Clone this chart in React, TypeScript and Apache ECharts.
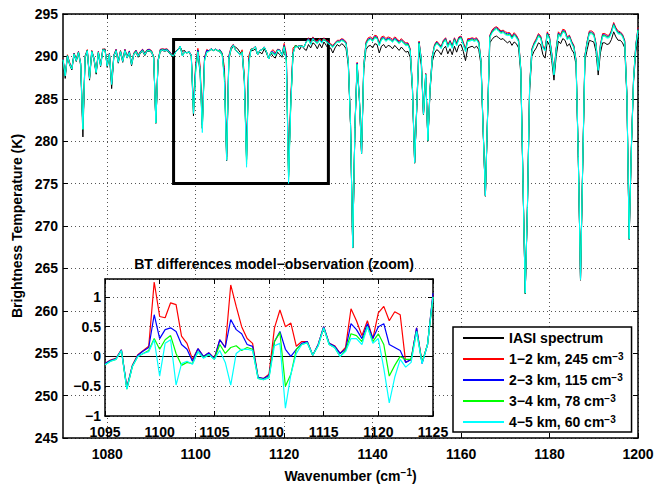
import React, { useEffect, useRef } from 'react';
import * as echarts from 'echarts';

const FONT = '"Liberation Sans", Arial, Helvetica, sans-serif';

// Spectral grid: IASI sampling used here, 0.5 cm-1 from 1070 cm-1
const wnStart = 1070;
const wnStep = 0.5;

// IASI observed brightness temperature (K), 1070.0 ... 1200.0 cm-1
const btIasi = [
  289.5, 287.4, 290.0, 289.0, 288.4, 290.2, 289.4, 290.4, 288.9, 280.5,
  289.8, 290.6, 287.2, 290.5, 289.6, 287.9, 290.4, 288.8, 290.7, 290.9,
  288.7, 290.2, 286.2, 290.0, 290.6, 289.2, 290.5, 289.3, 290.6, 289.8,
  290.4, 288.9, 290.2, 290.5, 289.9, 290.4, 290.6, 290.1, 290.6, 290.6,
  290.5, 289.8, 282.1, 289.4, 290.6, 290.7, 290.6, 290.7, 290.4, 290.1,
  290.2, 290.6, 290.8, 291.1, 290.6, 290.7, 290.4, 290.5, 290.0, 283.0,
  288.5, 290.3, 288.0, 281.5, 289.6, 290.6, 290.7, 290.8, 290.7, 290.8,
  290.7, 290.5, 290.2, 287.5, 277.7, 289.6, 290.8, 291.2, 291.1, 290.9,
  290.5, 290.3, 287.0, 277.8, 289.5, 290.7, 290.7, 290.9, 290.2, 290.5,
  290.3, 290.9, 290.4, 289.7, 290.4, 290.0, 289.8, 290.5, 290.2, 289.9,
  290.8, 289.5, 275.8, 284.5, 290.3, 291.3, 291.2, 290.8, 291.3, 290.9,
  290.7, 291.4, 291.0, 291.6, 291.4, 290.9, 291.5, 291.0, 291.7, 291.3,
  290.9, 291.0, 290.4, 291.0, 291.4, 291.2, 291.5, 291.3, 290.9, 289.0,
  282.0, 267.4, 281.5, 288.7, 285.0, 278.5, 288.5, 290.8, 291.2, 291.3,
  291.0, 291.5, 291.4, 290.4, 291.2, 291.4, 291.0, 291.3, 291.2, 290.9,
  291.3, 291.0, 290.7, 291.1, 290.8, 290.5, 290.6, 289.9, 286.0, 277.4,
  284.0, 290.8, 289.0, 283.1, 287.5, 280.0, 286.0, 289.4, 290.4, 290.8,
  290.6, 290.2, 290.9, 291.2, 290.3, 290.9, 290.2, 291.2, 290.5, 291.3,
  291.4, 290.6, 289.5, 291.0, 291.1, 291.2, 291.0, 291.2, 290.8, 289.0,
  281.0, 273.5, 283.0, 291.6, 292.0, 292.3, 292.4, 292.2, 292.0, 292.1,
  291.8, 291.6, 291.8, 291.3, 291.7, 291.5, 291.0, 288.0, 275.0, 262.0,
  272.0, 286.0, 290.0, 290.6, 291.0, 291.6, 291.4, 290.2, 289.8, 291.8,
  291.3, 289.5, 287.2, 290.0, 291.8, 291.5, 292.1, 291.9, 291.2, 291.5,
  290.8, 290.4, 289.0, 278.0, 263.6, 277.0, 289.5, 290.8, 291.9, 291.8,
  291.7, 290.6, 287.8, 290.4, 291.6, 291.6, 291.4, 291.5, 292.0, 292.9,
  292.3, 291.9, 291.9, 291.6, 291.0, 285.0, 268.4, 279.0, 287.0, 290.5,
  292.3,
];

// Model minus observation (K), same grid
const diff12 = [
  0.25, 0.4, 0.2, 0.3, 0.25, 0.2, 0.3, 0.2, 0.3, 1.0,
  0.3, 0.2, 0.3, 0.2, 0.25, 0.3, 0.2, 0.3, 0.2, -0.1,
  0.3, 0.2, 0.6, 0.2, 0.25, 0.3, 0.2, 0.3, 0.25, 0.2,
  0.25, 0.3, 0.2, 0.25, 0.3, 0.2, 0.25, 0.3, 0.2, 0.25,
  0.2, 0.2, 0.1, 0.2, 0.25, 0.2, 0.25, 0.2, 0.25, 0.2,
  -0.12, -0.06, -0.03, 0.11, -0.52, -0.15, 0.03, 0.1, 0.17, 1.25,
  0.67, 0.65, 0.9, 0.87, 0.34, 0.22, -0.05, 0.13, 0.0, 0.06,
  -0.03, 0.28, 0.15, 1.2, 0.84, 0.5, 0.3, 0.22, -0.35, -0.37,
  -0.3, 0.48, 0.78, 0.5, 0.56, 0.17, 0.25, 0.25, 0.02, 0.2,
  0.5, 0.22, 0.18, 0.05, 0.15, 0.8, 0.6, 0.35, 0.6, 0.3,
  0.73, 0.84, 0.6, 0.75, 0.7, -0.1, -0.05, 0.48, -0.1, 0.2,
  1.04,
  0.8, 0.6, 0.7, 0.5, 0.9, 0.6, 0.8, 0.5, 0.6, 0.9,
  0.5, 0.9, 0.6, 0.5, 0.7, 0.6, 0.7, 0.8, 0.5, 0.2,
  0.05, 0.2, 0.6, 0.2, 0.1,
  0.5, 0.9, 1.0, 1.0, 1.1, 1.0, 1.0, 1.2, 1.1, 1.0,
  1.1, 1.0, 1.0, 1.1, 1.0, 1.1, 1.1, 1.0, 1.0, 1.1,
  1.0, 1.0, 0.5, 0.1, 0.4, 1.0, 0.8, 0.1, 0.5, 0.1,
  0.4, 0.7, 1.0, 1.0, 0.9, 1.0, 1.0, 1.0, 1.1, 1.0,
  1.1, 1.0, 1.1, 1.0, 1.0, 1.1, 1.4, 1.1, 1.0, 1.0,
  1.1, 1.0, 1.0, 0.6, 0.3, 0.1, 0.3, 0.9, 1.1, 1.1,
  1.1, 1.1, 1.0, 1.0, 1.1, 1.2, 1.0, 1.1, 1.1, 1.0,
  1.0, 0.6, 0.3, 0.1, 0.3, 0.6, 0.9, 1.0, 1.1, 1.1,
  1.0, 1.1, 1.2, 1.1, 1.0, 0.9, 0.9, 1.0, 1.1, 1.1,
  1.1, 1.2, 1.1, 1.0, 1.0, 0.9, 0.6, 0.3, 0.1, 0.3,
  0.7, 1.0, 1.1, 1.2, 1.1, 1.0, 0.8, 1.0, 1.1, 1.1,
  1.1, 1.0, 1.1, 1.1, 1.1, 1.1, 1.0, 1.0, 0.9, 0.5,
  0.1, 0.3, 0.5, 0.9, 1.1,
];

const diff23 = [
  0.2, 0.35, 0.15, 0.2, 0.2, 0.15, 0.2, 0.15, 0.25, 0.95,
  0.2, 0.15, 0.25, 0.15, 0.2, 0.25, 0.15, 0.2, 0.15, -0.15,
  0.25, 0.15, 0.55, 0.15, 0.2, 0.2, 0.15, 0.2, 0.2, 0.15,
  0.2, 0.25, 0.15, 0.2, 0.2, 0.15, 0.2, 0.2, 0.15, 0.2,
  0.15, 0.15, 0.08, 0.15, 0.2, 0.15, 0.2, 0.15, 0.2, 0.15,
  -0.12, -0.07, -0.04, 0.11, -0.53, -0.16, 0.02, 0.09, 0.15, 0.7,
  0.3, 0.45, 0.48, 0.42, 0.2, 0.12, -0.08, 0.13, 0.0, 0.06,
  -0.04, 0.28, 0.15, 0.62, 0.45, 0.38, 0.2, 0.17, -0.35, -0.37,
  -0.32, 0.25, 0.42, 0.12, 0.0, 0.12, 0.22, 0.25, 0.02, 0.2,
  0.5, 0.22, 0.17, 0.05, 0.12, 0.55, 0.45, 0.3, 0.55, 0.3,
  0.5, 0.55, 0.2, 0.15, 0.1, -0.1, -0.05, 0.48, -0.12, 0.2,
  1.06,
  0.7, 0.5, 0.6, 0.4, 0.75, 0.5, 0.7, 0.4, 0.5, 0.75,
  0.4, 0.8, 0.5, 0.4, 0.6, 0.5, 0.6, 0.7, 0.4, 0.15,
  0.05, 0.15, 0.5, 0.15, 0.08,
  0.4, 0.75, 0.85, 0.85, 0.95, 0.85, 0.85, 1.05, 0.95, 0.85,
  0.95, 0.85, 0.85, 0.95, 0.85, 0.95, 0.95, 0.85, 0.9, 0.95,
  0.9, 0.9, 0.45, 0.1, 0.35, 0.9, 0.7, 0.1, 0.45, 0.1,
  0.35, 0.6, 0.9, 0.9, 0.8, 0.9, 0.9, 0.9, 0.95, 0.9,
  0.95, 0.9, 0.95, 0.9, 0.9, 0.95, 1.25, 0.95, 0.9, 0.9,
  0.95, 0.9, 0.9, 0.5, 0.25, 0.1, 0.25, 0.8, 0.95, 0.95,
  1.0, 0.95, 0.9, 0.9, 0.95, 1.05, 0.9, 0.95, 0.95, 0.9,
  0.9, 0.5, 0.25, 0.1, 0.25, 0.5, 0.8, 0.9, 0.95, 0.95,
  0.9, 0.95, 1.05, 0.95, 0.9, 0.8, 0.8, 0.9, 0.95, 0.95,
  0.95, 1.05, 0.95, 0.9, 0.9, 0.8, 0.5, 0.25, 0.1, 0.25,
  0.6, 0.9, 0.95, 1.05, 0.95, 0.9, 0.7, 0.9, 0.95, 0.95,
  0.95, 0.9, 0.95, 0.95, 0.95, 0.95, 0.9, 0.9, 0.8, 0.4,
  0.1, 0.25, 0.4, 0.8, 0.95,
];

const diff34 = [
  0.12, 0.3, 0.1, 0.15, 0.15, 0.1, 0.15, 0.1, 0.2, 0.9,
  0.15, 0.1, 0.2, 0.1, 0.15, 0.2, 0.1, 0.15, 0.1, -0.2,
  0.2, 0.1, 0.5, 0.1, 0.1, 0.15, 0.1, 0.15, 0.1, 0.1,
  0.1, 0.2, 0.1, 0.1, 0.15, 0.1, 0.1, 0.15, 0.1, 0.1,
  0.1, 0.1, 0.05, 0.1, 0.1, 0.1, 0.1, 0.1, 0.1, 0.1,
  -0.14, -0.08, -0.05, 0.1, -0.55, -0.17, 0.0, 0.05, 0.1, 0.3,
  0.12, 0.28, 0.35, 0.05, -0.15, -0.1, -0.12, 0.08, -0.02, 0.03,
  -0.05, 0.2, 0.05, 0.15, 0.18, 0.1, 0.15, 0.12, -0.37, -0.39,
  -0.35, 0.25, 0.4, -0.5, -0.3, 0.12, 0.2, 0.23, 0.02, 0.18,
  0.48, 0.2, 0.15, 0.0, 0.1, 0.38, 0.35, 0.25, 0.5, 0.25,
  0.38, 0.2, -0.33, -0.15, 0.0, -0.05, -0.05, 0.42, -0.1, 0.2,
  1.0,
  0.6, 0.45, 0.5, 0.35, 0.65, 0.45, 0.6, 0.35, 0.45, 0.65,
  0.35, 0.7, 0.45, 0.35, 0.5, 0.4, 0.5, 0.6, 0.35, 0.1,
  0.05, 0.1, 0.4, 0.1, 0.05,
  0.35, 0.65, 0.75, 0.75, 0.85, 0.75, 0.75, 0.95, 0.85, 0.75,
  0.85, 0.75, 0.75, 0.85, 0.75, 0.85, 0.85, 0.75, 0.8, 0.85,
  0.8, 0.8, 0.4, 0.08, 0.3, 0.8, 0.6, 0.08, 0.4, 0.08,
  0.3, 0.55, 0.8, 0.8, 0.7, 0.8, 0.8, 0.8, 0.85, 0.8,
  0.85, 0.8, 0.85, 0.8, 0.8, 0.85, 1.15, 0.85, 0.8, 0.8,
  0.85, 0.8, 0.8, 0.45, 0.2, 0.08, 0.2, 0.7, 0.85, 0.85,
  0.9, 0.85, 0.8, 0.8, 0.85, 0.95, 0.8, 0.85, 0.85, 0.8,
  0.8, 0.45, 0.2, 0.08, 0.2, 0.45, 0.7, 0.8, 0.85, 0.85,
  0.8, 0.85, 0.95, 0.85, 0.8, 0.7, 0.7, 0.8, 0.85, 0.85,
  0.85, 0.95, 0.85, 0.8, 0.8, 0.7, 0.45, 0.2, 0.08, 0.2,
  0.5, 0.8, 0.85, 0.95, 0.85, 0.8, 0.6, 0.8, 0.85, 0.85,
  0.85, 0.8, 0.85, 0.85, 0.85, 0.85, 0.8, 0.8, 0.7, 0.35,
  0.08, 0.2, 0.35, 0.7, 0.85,
];

const diff45 = [
  0.1, 0.3, 0.05, 0.1, 0.1, 0.05, 0.1, 0.05, 0.2, 0.9,
  0.1, 0.05, 0.2, 0.05, 0.1, 0.2, 0.05, 0.1, 0.05, -0.2,
  0.15, 0.05, 0.5, 0.05, 0.05, 0.1, 0.05, 0.1, 0.05, 0.05,
  0.05, 0.15, 0.05, 0.05, 0.1, 0.05, 0.05, 0.1, 0.05, 0.05,
  0.05, 0.05, 0.05, 0.05, 0.05, 0.05, 0.05, 0.05, 0.05, 0.05,
  -0.14, -0.08, -0.05, 0.1, -0.55, -0.17, 0.0, 0.05, 0.08, 0.28,
  -0.33, 0.22, 0.28, -0.48, -0.12, -0.08, -0.13, 0.08, -0.03, 0.03,
  -0.05, 0.1, -0.1, -0.48, 0.05, 0.12, 0.12, 0.1, -0.37, -0.39,
  -0.36, 0.18, 0.22, -0.87, -0.3, 0.05, 0.2, 0.23, 0.02, 0.18,
  0.48, 0.2, 0.15, 0.0, 0.08, 0.3, 0.3, 0.2, 0.5, 0.22,
  0.3, -0.2, -0.78, -0.35, -0.05, -0.18, -0.1, 0.42, -0.12, 0.2,
  1.0,
  0.55, 0.4, 0.45, 0.3, 0.6, 0.4, 0.55, 0.3, 0.4, 0.6,
  0.3, 0.65, 0.4, 0.3, 0.45, 0.35, 0.45, 0.55, 0.3, 0.1,
  0.05, 0.1, 0.35, 0.1, 0.05,
  0.3, 0.55, 0.65, 0.7, 0.75, 0.65, 0.7, 0.85, 0.75, 0.7,
  0.75, 0.7, 0.7, 0.75, 0.7, 0.75, 0.8, 0.7, 0.7, 0.75,
  0.7, 0.75, 0.35, 0.08, 0.3, 0.7, 0.55, 0.08, 0.35, 0.08,
  0.25, 0.5, 0.7, 0.7, 0.65, 0.7, 0.7, 0.7, 0.75, 0.7,
  0.75, 0.7, 0.75, 0.7, 0.7, 0.75, 1.05, 0.75, 0.7, 0.7,
  0.75, 0.7, 0.7, 0.4, 0.2, 0.08, 0.2, 0.6, 0.75, 0.75,
  0.8, 0.75, 0.7, 0.7, 0.75, 0.85, 0.7, 0.75, 0.75, 0.7,
  0.7, 0.4, 0.2, 0.08, 0.2, 0.4, 0.6, 0.7, 0.75, 0.75,
  0.7, 0.75, 0.85, 0.75, 0.7, 0.6, 0.6, 0.7, 0.75, 0.75,
  0.75, 0.85, 0.75, 0.7, 0.7, 0.6, 0.4, 0.2, 0.08, 0.2,
  0.45, 0.7, 0.75, 0.85, 0.75, 0.7, 0.55, 0.7, 0.75, 0.75,
  0.75, 0.7, 0.75, 0.75, 0.75, 0.75, 0.7, 0.7, 0.6, 0.3,
  0.08, 0.2, 0.3, 0.6, 0.75,
];

const mainXTicks = [1080, 1100, 1120, 1140, 1160, 1180, 1200];
const insetRange = [1095, 1125];
const zoomBoxX = [1095, 1130];
const zoomBoxY = [275, 292];

const seriesNames = ['IASI spectrum', '1−2 km, 245 cm−3', '2−3 km, 115 cm−3', '3−4 km, 78 cm−3', '4−5 km, 60 cm−3'];
const legendMain = ['IASI spectrum', '1−2 km, 245 cm', '2−3 km, 115 cm', '3−4 km, 78 cm', '4−5 km, 60 cm'];
const legendSup = ['', '−3', '−3', '−3', '−3'];
const colors = ['#000000', '#ff0000', '#0000ff', '#00ff00', '#00ffff'];

const lbl = { color: '#000', fontWeight: 'bold' as const, fontSize: 14, fontFamily: FONT };
const gridDots = { show: true, lineStyle: { color: '#555', width: 1, type: [1, 3] as number[] } };
const axLine = { show: true, onZero: false, lineStyle: { color: '#000', width: 1.5 } };
const tickIn = { show: true, inside: true, length: 5, lineStyle: { color: '#000', width: 1 } };
const plain = (v: number) => String(v).replace('-', '−');

export default function App() {
  const ref = useRef<HTMLDivElement>(null);
  useEffect(() => {
    if (!ref.current) return;
    const chart = echarts.init(ref.current, null, { renderer: 'svg' });
    const wn = btIasi.map((_, i) => +(wnStart + wnStep * i).toFixed(2));
    const diffs = [diff12, diff23, diff34, diff45];
    const mainData = [
      wn.map((w, i) => [w, btIasi[i]]),
      ...diffs.map((d) => wn.map((w, i) => [w, +(btIasi[i] + d[i]).toFixed(2)])),
    ];
    const insetIdx = wn.map((_, i) => i).filter((i) => wn[i] >= insetRange[0] && wn[i] <= insetRange[1]);
    const insetData = diffs.map((d) => insetIdx.map((i) => [wn[i], d[i]]));

    const series: any[] = [];
    mainData.forEach((data, k) => {
      series.push({
        type: 'line', name: seriesNames[k], data, xAxisIndex: 0, yAxisIndex: 0,
        symbol: 'none', z: 2, lineStyle: { color: colors[k], width: 1 }, itemStyle: { color: colors[k] },
        ...(k === 0 ? {
          markArea: {
            silent: true,
            itemStyle: { color: 'rgba(0,0,0,0)', borderColor: '#000', borderWidth: 3 },
            data: [[{ coord: [zoomBoxX[0], zoomBoxY[1]] }, { coord: [zoomBoxX[1], zoomBoxY[0]] }]],
          },
        } : {}),
      });
    });
    series.push({
      type: 'line', name: seriesNames[0], data: [], xAxisIndex: 2, yAxisIndex: 2, z: 5, symbol: 'none',
      lineStyle: { color: '#000', width: 1 },
      markLine: { silent: true, symbol: 'none', label: { show: false }, lineStyle: { color: '#000', width: 1.2, type: 'solid' }, data: [{ yAxis: 0 }] },
    });
    insetData.forEach((data, k) => {
      series.push({
        type: 'line', name: seriesNames[k + 1], data, xAxisIndex: 2, yAxisIndex: 2,
        symbol: 'none', z: 5, lineStyle: { color: colors[k + 1], width: 1.2 }, itemStyle: { color: colors[k + 1] },
      });
    });

    const option: any = {
      animation: false,
      textStyle: { fontFamily: FONT },
      title: {
        text: 'BT differences model−observation (zoom)', left: 269, top: 252, textAlign: 'center',
        textStyle: { ...lbl }, z: 6,
      },
      grid: [
        { left: 63, top: 14, width: 575, height: 431, show: false },
        { left: 105, top: 279, width: 328, height: 137, show: true, backgroundColor: '#fff', borderWidth: 0, z: 3 },
      ],
      xAxis: [
        {
          gridIndex: 0, type: 'value', min: 1070, max: 1200, position: 'bottom',
          axisLine: axLine, axisTick: { ...tickIn, customValues: mainXTicks },
          axisLabel: { ...lbl, margin: 9, customValues: mainXTicks, formatter: plain },
          splitLine: gridDots,
          name: '{t|Wavenumber (cm}{s|−1}{t|)}', nameLocation: 'middle', nameGap: 29,
          nameTextStyle: { rich: { t: { ...lbl, lineHeight: 18 }, s: { ...lbl, fontSize: 10, verticalAlign: 'top', lineHeight: 10 } } },
        },
        {
          gridIndex: 0, type: 'value', min: 1070, max: 1200, position: 'top',
          axisLine: axLine, axisTick: { ...tickIn, customValues: mainXTicks },
          axisLabel: { show: false }, splitLine: { show: false },
        },
        {
          gridIndex: 1, type: 'value', min: insetRange[0], max: insetRange[1], interval: 5, position: 'bottom', z: 4,
          axisLine: axLine, axisTick: tickIn, axisLabel: { ...lbl, lineHeight: 14, margin: 9, formatter: plain }, splitLine: gridDots,
        },
        {
          gridIndex: 1, type: 'value', min: insetRange[0], max: insetRange[1], interval: 5, position: 'top', z: 4,
          axisLine: axLine, axisTick: tickIn, axisLabel: { show: false }, splitLine: { show: false },
        },
      ],
      yAxis: [
        {
          gridIndex: 0, type: 'value', min: 245, max: 295, interval: 5, position: 'left',
          axisLine: axLine, axisTick: tickIn, axisLabel: { ...lbl, margin: 5, formatter: plain }, splitLine: gridDots,
          name: 'Brightness Temperature (K)', nameLocation: 'middle', nameGap: 28, nameTextStyle: { ...lbl },
        },
        {
          gridIndex: 0, type: 'value', min: 245, max: 295, interval: 5, position: 'right',
          axisLine: axLine, axisTick: tickIn, axisLabel: { show: false }, splitLine: { show: false },
        },
        {
          gridIndex: 1, type: 'value', min: -1, max: 1.3, interval: 0.5, position: 'left', z: 4,
          axisLine: axLine, axisTick: tickIn,
          axisLabel: { ...lbl, lineHeight: 13, padding: [0, 0, 3, 0], margin: 4, showMaxLabel: false, formatter: plain },
          splitLine: gridDots,
        },
        {
          gridIndex: 1, type: 'value', min: -1, max: 1.3, interval: 0.5, position: 'right', z: 4,
          axisLine: axLine, axisTick: tickIn, axisLabel: { show: false }, splitLine: { show: false },
        },
      ],
      legend: {
        data: seriesNames, orient: 'vertical', left: 453, top: 327,
        icon: 'rect', itemWidth: 41, itemHeight: 2, itemGap: 6, padding: [4, 8, 3, 10],
        backgroundColor: '#fff', borderColor: '#000', borderWidth: 1.5, z: 10,
        selectedMode: false,
        formatter: (name: string) => {
          const k = seriesNames.indexOf(name);
          return legendSup[k] ? `{t|${legendMain[k]}}{s|${legendSup[k]}}` : `{t|${legendMain[k]}}`;
        },
        textStyle: {
          ...lbl,
          rich: { t: { ...lbl, lineHeight: 16 }, s: { ...lbl, fontSize: 10, verticalAlign: 'top', lineHeight: 10 } },
        },
      },
      series,
    };
    chart.setOption(option);
    return () => chart.dispose();
  }, []);
  return <div ref={ref} style={{ position: 'fixed', left: 0, top: 0, width: 663, height: 488, background: '#fff' }} />;
}
